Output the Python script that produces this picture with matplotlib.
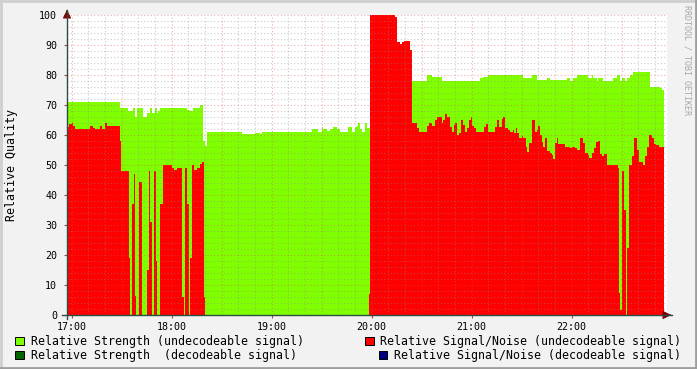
import numpy as np
import matplotlib
matplotlib.use("Agg")
import matplotlib.pyplot as plt
from matplotlib.patches import Rectangle
from matplotlib.lines import Line2D

# minutes after 17:00 where each step starts, and its value
strength_t = [-3, 29, 34, 37, 38, 39, 43, 45, 47, 48, 50, 51, 52, 53, 69, 71, 73, 77, 79, 80,
              81, 102, 110, 113, 114, 144, 148, 150, 151, 153, 155, 157, 159, 161, 166, 168, 170,
              171, 172, 173, 174, 176, 177, 179, 213, 216, 222, 245, 247, 250, 271, 276, 279, 285,
              287, 297, 299, 301, 303, 310, 312, 313, 315, 316, 319, 325, 327, 329, 330, 332, 333,
              335, 337, 347, 353, 354]
strength_v = [71, 69, 68, 69, 66, 69, 66, 67.5, 69, 67.5, 69, 67.5, 68, 69, 68.5, 68, 69, 70, 58, 56.5,
              61, 60.2, 60.7, 60.2, 61, 61.9, 61.1, 62.7, 62, 61.4, 61.9, 62.7, 61.9, 61.1, 62.6, 61.1, 62.6,
              63, 64, 62, 61.1, 64, 62.2, 78, 80, 79.3, 78, 78.9, 79.4, 80, 79.1, 80, 78.3, 79,
              78.3, 79, 78, 79, 80, 79, 80, 79, 78, 79, 78, 79, 80, 78, 79, 78, 79,
              80, 81, 76, 75.8, 75]

snr_t = [-3, -1.4, 0, 1, 2, 11, 13, 14, 17, 18, 20, 21, 29, 29.5, 34.2, 35.2, 36.2, 37.2, 37.8, 38.6,
         40.2, 42.2, 45.2, 46.6, 47.2, 48.2, 49.2, 50.4, 51.4, 52.8, 54.6, 60, 61.6, 63, 66, 67.6, 68,
         69.4, 70.4, 71, 72.4, 73.6, 75, 77, 78.4, 79.4, 80, 178.4, 179, 194, 195.2, 197, 198, 199.4,
         203, 204.2, 207, 208.4, 213, 214.6, 216, 218, 219.4, 222, 223, 224.2, 225.4, 227, 228.2,
         229.4, 230.2, 231.4, 232.6, 233.4, 234.6, 235.8, 237, 238.2, 239.4, 240.2, 241.4, 242.6,
         247.4, 248.6, 250, 254, 255, 256.4, 258, 259, 260, 262, 263, 264.6, 265.4, 266.6, 267.4,
         268.6, 270, 271, 272.6, 273.4, 274.6, 276.2, 278, 279, 280, 281, 282, 283, 284, 285.4, 287,
         288, 289, 290, 291, 292, 296, 299, 300, 302, 303.4, 305, 306.6, 308, 310, 310.6, 312, 313.4,
         314.6, 316, 317, 318.4, 319.4, 321, 328, 328.6, 329.2, 330, 331.4, 332.4, 333, 334.4, 336,
         337.4, 339, 340.6, 341.4, 342.6, 344, 345.4, 346.6, 348, 349.4, 350.6, 352.6]
snr_v = [62.8, 63.6, 64, 63, 62, 63, 62.5, 62, 63, 62, 64, 63, 58, 48, 19, 0, 37, 47, 6.5, 0,
         44.5, 0, 15, 48, 31, 0, 48, 18, 0, 37, 50, 49, 48.3, 49, 6, 0, 49,
         37, 0, 19, 50, 48.3, 49, 50.2, 51, 6, 0, 7, 100, 99.4, 91, 90.2, 91, 91.2,
         88.3, 64, 62.2, 61.1, 63.1, 64, 63.1, 65, 66, 64, 65, 67, 66, 62.6, 61.1,
         63.3, 64, 60, 60.8, 65, 63.3, 61.1, 62.2, 65, 66.1, 63, 62.4, 61.1,
         62.8, 63.6, 61.1, 62.8, 65, 62.8, 65.3, 65.9, 62.2, 61.7, 61.1, 61.7, 60.6, 62.4, 60.6,
         59.1, 59.8, 58.9, 56.1, 54.2, 57.2, 65, 61.1, 61.7, 63, 60, 57.6, 56.1, 59.1, 54.7, 53.9,
         53.3, 52, 57.2, 59.1, 56.9, 56.1, 55.8, 56.1, 55.6, 55, 58.9, 57.2, 53.9, 53.3, 52.2, 53.9, 55.6,
         57.6, 58, 53.6, 53.1, 53.6, 50, 49.1, 7.4, 1.7, 48, 35, 0, 22.4, 50, 53,
         58.9, 55, 51.1, 50.9, 50, 53.1, 56.1, 60, 59.1, 56.9, 56.7, 56.1]
data_end = 355.3

hour_labels = ["17:00", "18:00", "19:00", "20:00", "21:00", "22:00"]
legend_items = [
    ("Relative Strength (undecodeable signal)", "#80FF00"),
    ("Relative Signal/Noise (undecodeable signal)", "#FF0000"),
    ("Relative Strength  (decodeable signal)", "#006400"),
    ("Relative Signal/Noise (decodeable signal)", "#000080"),
]

W, H = 697, 369
plt.rcParams['font.family'] = 'DejaVu Sans Mono'

fig = plt.figure(figsize=(W / 100, H / 100), dpi=100)
fig.patch.set_facecolor('#F2F2F2')


def px(x, y):
    return (x / W, 1 - y / H)


ax = fig.add_axes([67 / W, 54 / H, 600 / W, 300 / H])
ax.set_facecolor('white')
xmin, xmax = -2.8, 357.2
ax.set_xlim(xmin, xmax)
ax.set_ylim(0, 100)


def steps(t, v):
    tt = np.append(np.array(t, float), data_end)
    vv = np.append(np.array(v, float), v[-1])
    return tt, vv


gt, gv = steps(strength_t, strength_v)
rt, rv = steps(snr_t, snr_v)
ax.fill_between(gt, gv, step='post', color='#80FF00', lw=0, zorder=1)
ax.fill_between(rt, rv, step='post', color='#FF0000', lw=0, zorder=2)

# grid (drawn over the areas like rrdtool does)
minor_c = (0.55, 0.55, 0.55, 0.45)
major_c = (0.85, 0.3, 0.3, 0.45)
for m in range(0, 360, 10):
    ax.axvline(m, color=major_c if m % 30 == 0 else minor_c, lw=0.8,
               ls=(0, (1, 2)), zorder=3)
for q in range(2, 101, 2):
    ax.axhline(q, color=major_c if q % 10 == 0 else minor_c, lw=0.8,
               ls=(0, (1, 2)), zorder=3)

for s in ax.spines.values():
    s.set_visible(False)

ax.set_xticks(range(0, 360, 60))
ax.set_xticklabels(hour_labels)
ax.set_yticks(range(0, 101, 10))
ax.tick_params(axis='both', labelsize=7.2, length=2, color='#AA4444', pad=3)
ax.tick_params(axis='y', pad=5)

# axis lines with arrows
fig.add_artist(Line2D([62 / W, 672 / W], [1 - 315 / H] * 2, color='#2C4D43', lw=1))
fig.add_artist(Line2D([67 / W] * 2, [1 - 319 / H, 1 - 10 / H], color='#2C4D43', lw=1))
ax.annotate('', xy=px(674, 315), xycoords='figure fraction', xytext=px(667, 315),
            arrowprops=dict(arrowstyle='-|>,head_length=0.5,head_width=0.25',
                            color='#7F0000', lw=0.8))
ax.annotate('', xy=px(67, 7), xycoords='figure fraction', xytext=px(67, 14),
            arrowprops=dict(arrowstyle='-|>,head_length=0.5,head_width=0.25',
                            color='#7F0000', lw=0.8))

fig.text(*px(12, 165), 'Relative Quality', rotation=90, ha='center', va='center',
         fontsize=8.4)
fig.text(*px(687, 5), 'RRDTOOL / TOBI OETIKER', rotation=-90, ha='center', va='top',
         fontsize=6, color='#A8A8A8')

# legend
legend_pos = [(15, 341), (365, 341), (15, 355), (379, 355)]
for (label, col), (lx, ly) in zip(legend_items, legend_pos):
    fig.add_artist(Rectangle(px(lx, ly + 4), 8.5 / W, 8.5 / H, facecolor=col,
                             edgecolor='black', lw=0.7))
    fig.text(*px(lx + 15.5, ly), label, ha='left', va='center', fontsize=8.4)

# frame shading
fig.add_artist(Line2D([0, 1], [1 - 0.5 / H] * 2, color='#CFCFCF', lw=2))
fig.add_artist(Line2D([0.5 / W] * 2, [0, 1], color='#CFCFCF', lw=2))
fig.add_artist(Line2D([0, 1], [1.0 / H] * 2, color='#9E9E9E', lw=2))
fig.add_artist(Line2D([1 - 1.0 / W] * 2, [0, 1], color='#9E9E9E', lw=2))

fig.savefig('out.png', dpi=100, facecolor=fig.get_facecolor())
